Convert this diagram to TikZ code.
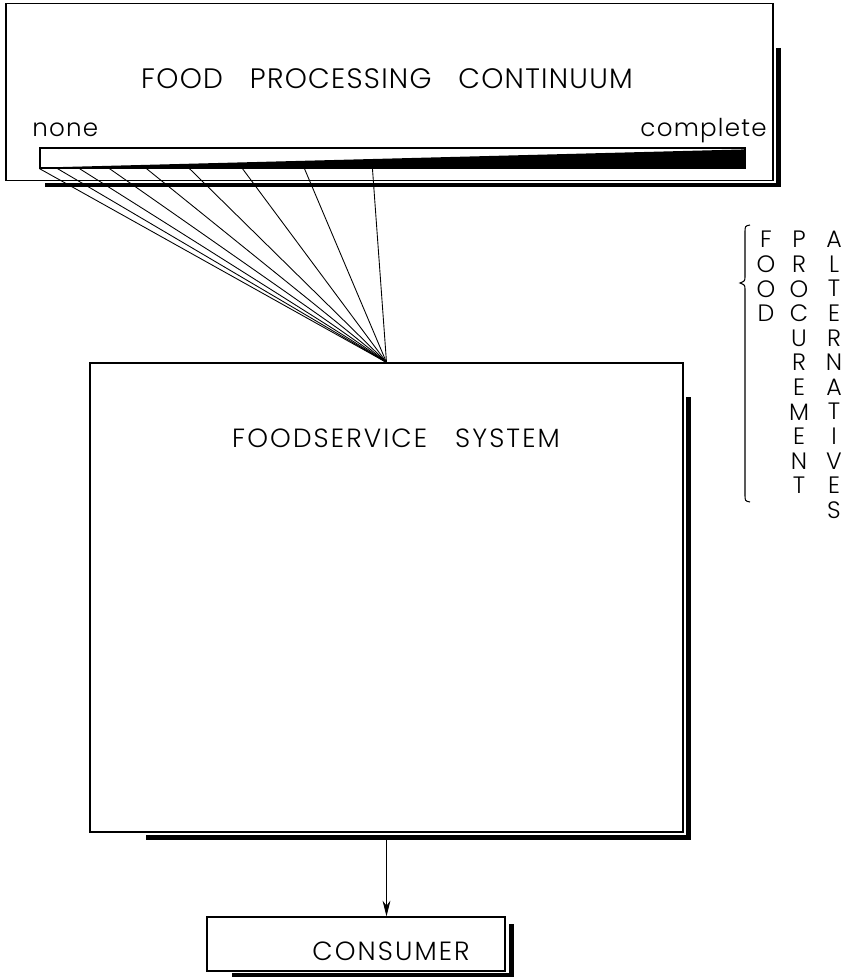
\documentclass[tikz,border=0pt]{standalone}
\usepackage{fontspec}
\setmainfont{Poppins Light}[WordSpace=3]
\usetikzlibrary{arrows.meta, calc, positioning}

\begin{document}
\begin{tikzpicture}[
        x=0.02cm, y=-0.02cm, % one unit per pixel of the scan
        box/.style={draw, line width=0.7pt, inner sep=0pt},
        shadow/.style={line width=2.4pt},
        fanline/.style={line width=0.5pt},
        label/.style={inner sep=0pt, font=\fontsize{15}{18}\selectfont\addfontfeature{LetterSpace=8}},
        small/.style={inner sep=0pt, font=\fontsize{14}{17}\selectfont\addfontfeature{LetterSpace=5}},
        vertical/.style={inner sep=0pt, anchor=north, align=center, font=\fontsize{13.5}{14}\selectfont},
        >={Stealth[length=9pt, width=4.5pt]}
      ]
      \useasboundingbox (0,0) rectangle (846,979);

      % Boxes
      \node (fpc) [box, minimum width=15.34cm, minimum height=3.54cm] at (389.5,92) {};
      \node (fss) [box, minimum width=11.86cm, minimum height=9.38cm] at (386.5,597.5) {};
      \node (cons) [box, minimum width=5.96cm, minimum height=1.08cm] at (356,944) {};

      % Shadows
      \draw[shadow] ($(fpc.north east)+(5,45)$) |- ($(fpc.south west)+(40,4)$);
      \draw[shadow] ($(fss.north east)+(5,35)$) |- ($(fss.south west)+(57,5)$);
      \draw[shadow] ($(cons.north east)+(6,8)$) |- ($(cons.south west)+(26,3)$);

      % Labels
      \node (fpcl) [label, font=\fontsize{16}{19}\selectfont\addfontfeature{LetterSpace=4.5}] at (387,79) {FOOD PROCESSING CONTINUUM};
      \node (none) [small, anchor=base west] at (32,137) {none};
      \node (compl) [small, anchor=base east] at (767,137) {complete};
      \node (fssl) [label] at (396,438) {FOODSERVICE SYSTEM};
      \node (consl) [label] at (391,951) {CONSUMER};

      % Continuum bar
      \node (bar) [box, minimum width=14.1cm, minimum height=0.4cm] at (392.5,158) {};
      \fill ($(bar.south west)+(0,-1)$) -- (bar.south east) -- ($(bar.north east)+(0,2)$) -- cycle;

      % Fan of alternatives
      \foreach \d in {0,18,40,70,107,150,203,265,333}
        \draw[fanline] ($(bar.south west)+(\d,0)$) -- (fss.north);

      % To the consumer
      \draw[->, line width=0.5pt] ($(fss.south)+(0,6)$) -- (fss.south |- cons.north);

      % Brace and side text
      \coordinate (bt) at (750,225);
      \coordinate (bb) at (750,502);
      \draw[line width=0.6pt] (bt) .. controls (745,226) .. (745,233) -- (745,276)
        .. controls (745,281) .. (740,283) .. controls (745,285) .. (745,290)
        -- (745,494) .. controls (745,501) .. (bb);
      \node (food) [vertical] at (766,231) {F\\O\\O\\D};
      \node (proc) [vertical] at (799,231) {P\\R\\O\\C\\U\\R\\E\\M\\E\\N\\T};
      \node (alt) [vertical] at (834,231) {A\\L\\T\\E\\R\\N\\A\\T\\I\\V\\E\\S};

    \end{tikzpicture}
\end{document}
